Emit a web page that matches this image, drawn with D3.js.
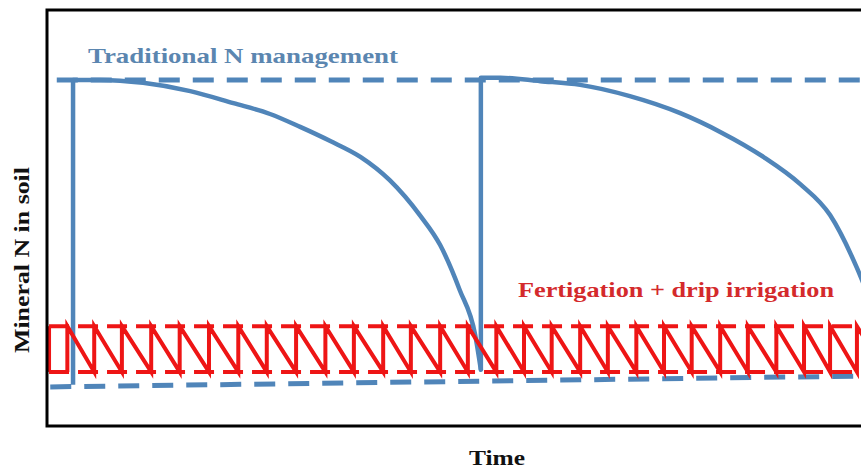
<!DOCTYPE html>
<html>
<head>
<meta charset="utf-8">
<script src="https://cdn.jsdelivr.net/npm/d3@7"></script>
<style>
  body { margin: 0; background: #fff; }
  svg { display: block; }
</style>
</head>
<body>
<div id="chart"></div>
<script>
// time (0-100) and mineral N level (0-100)
const traditionalTime  = [3.2, 3.2, 6.5, 11.8, 17.6, 22.9, 27.4, 31.1, 34.8, 38.5, 42.1, 45.8, 48.3, 50.7, 52.6, 53.3,
                          53.3, 55.7, 60.6, 65.5, 71.6, 77.8, 82.7, 88.0, 92.5, 96.2, 99.5, 101.1];
const traditionalN     = [9.9, 83.2, 83.2, 82.5, 80.5, 77.6, 75.0, 71.9, 68.5, 64.7, 59.1, 50.7, 43.5, 32.7, 21.9, 13.5,
                          83.7, 83.7, 82.9, 82.0, 79.3, 75.2, 70.7, 64.7, 58.2, 50.7, 38.0, 30.3];
const traditionalMax   = [[1.2, 83.2], [100, 83.2]];
const traditionalMin   = [[0.4, 9.4], [100, 12.0]];

// fertigation events: N jumps to the upper level, then drops to the lower one
const fertigationTime  = [2.5, 5.8, 9.2, 12.8, 16.3, 19.9, 23.5, 27.0, 30.6, 34.2, 37.7, 41.3, 44.7, 48.3, 51.7,
                          55.2, 58.6, 62.0, 65.5, 68.9, 72.4, 75.8, 79.2, 82.7, 86.1, 89.6, 93.0, 96.2, 99.5, 103];
const fertigationHigh  = 24.0;
const fertigationLow   = 13.0;
const fertigationStart = 0.25;

const width = 861, height = 470;
const frame = {left: 47, top: 10, right: 868, bottom: 426};

const svg = d3.select("#chart")
    .append("svg")
    .attr("width", width)
    .attr("height", height);

const x = d3.scaleLinear().domain([0, 100]).range([frame.left, 861]);
const y = d3.scaleLinear().domain([0, 100]).range([frame.bottom, frame.top]);

const blue = "#5085b9";
const red = "#ee1515";

svg.append("clipPath").attr("id", "plot")
  .append("rect")
    .attr("x", frame.left).attr("y", frame.top)
    .attr("width", frame.right - frame.left).attr("height", frame.bottom - frame.top);

const plot = svg.append("g").attr("clip-path", "url(#plot)");

const line = d3.line()
    .x(d => x(d[0]))
    .y(d => y(d[1]));

const smooth = d3.line()
    .x(d => x(d[0]))
    .y(d => y(d[1]))
    .curve(d3.curveMonotoneX);

// dashed bounds
[traditionalMax, traditionalMin].forEach(d => {
  plot.append("path")
    .attr("d", line(d))
    .attr("fill", "none")
    .attr("stroke", blue)
    .attr("stroke-width", 5)
    .attr("stroke-dasharray", "21,13");
});

[[[fertigationStart, fertigationHigh], [100, fertigationHigh]],
 [[fertigationStart, fertigationLow], [100, fertigationLow]]].forEach(d => {
  plot.append("path")
    .attr("d", line(d))
    .attr("fill", "none")
    .attr("stroke", red)
    .attr("stroke-width", 4)
    .attr("stroke-dasharray", "20,9");
});

// traditional N curve: straight rises at application, smooth decay in between
const trad = traditionalTime.map((t, i) => [t, traditionalN[i]]);
const decays = [];
let seg = [];
trad.forEach((p, i) => {
  if (i > 0 && p[0] === trad[i - 1][0]) {
    plot.append("path")
      .attr("d", line([trad[i - 1], p]))
      .attr("stroke", blue)
      .attr("stroke-width", 4.5);
    if (seg.length > 1) decays.push(seg);
    seg = [];
  }
  seg.push(p);
});
if (seg.length > 1) decays.push(seg);

decays.forEach(s => {
  plot.append("path")
    .attr("d", smooth(s))
    .attr("fill", "none")
    .attr("stroke", blue)
    .attr("stroke-width", 4.5)
    .attr("stroke-linecap", "round");
});

// fertigation sawtooth
plot.append("path")
    .attr("d", line([[fertigationStart, fertigationLow], [fertigationStart, fertigationHigh]]))
    .attr("stroke", red)
    .attr("stroke-width", 4);

const saw = [];
fertigationTime.forEach((t, i) => {
  saw.push([t, fertigationLow], [t, fertigationHigh]);
  if (i < fertigationTime.length - 1) saw.push([fertigationTime[i + 1], fertigationLow]);
});
plot.append("path")
    .attr("d", line(saw))
    .attr("fill", "none")
    .attr("stroke", red)
    .attr("stroke-width", 4)
    .attr("stroke-linejoin", "miter");

// frame
svg.append("path")
    .attr("d", `M${frame.right},${frame.top}H${frame.left}V${frame.bottom}H${frame.right}`)
    .attr("fill", "none")
    .attr("stroke", "#000")
    .attr("stroke-width", 3);

// labels
svg.append("text")
    .attr("x", 88).attr("y", 63)
    .attr("textLength", 310).attr("lengthAdjust", "spacingAndGlyphs")
    .style("font-family", "Liberation Serif, serif")
    .style("font-weight", "bold")
    .style("font-size", "22px")
    .attr("fill", "#5b86b0")
    .text("Traditional N management");

svg.append("text")
    .attr("x", 518).attr("y", 297)
    .attr("textLength", 316).attr("lengthAdjust", "spacingAndGlyphs")
    .style("font-family", "Liberation Serif, serif")
    .style("font-weight", "bold")
    .style("font-size", "22px")
    .attr("fill", "#d42a2c")
    .text("Fertigation + drip irrigation");

svg.append("text")
    .attr("text-anchor", "middle")
    .attr("x", 497).attr("y", 465)
    .attr("textLength", 56).attr("lengthAdjust", "spacingAndGlyphs")
    .style("font-family", "Liberation Serif, serif")
    .style("font-weight", "bold")
    .style("font-size", "22px")
    .attr("fill", "#111")
    .text("Time");

svg.append("text")
    .attr("text-anchor", "middle")
    .attr("transform", "translate(29,260) rotate(-90)")
    .attr("textLength", 186).attr("lengthAdjust", "spacingAndGlyphs")
    .style("font-family", "Liberation Serif, serif")
    .style("font-weight", "bold")
    .style("font-size", "21px")
    .attr("fill", "#111")
    .text("Mineral N in soil");
</script>
</body>
</html>
